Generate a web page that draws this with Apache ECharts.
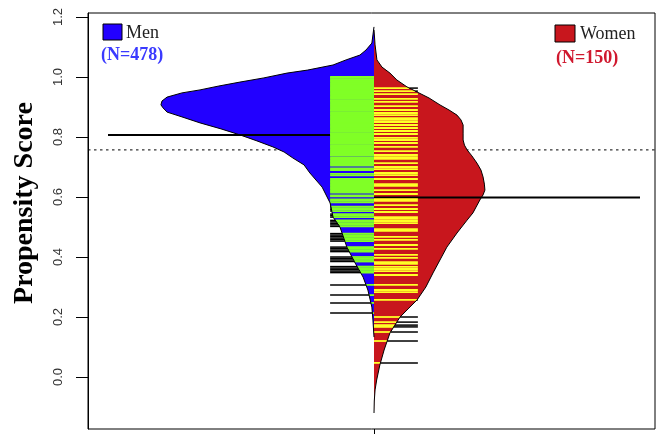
<!DOCTYPE html>
<html>
<head>
<meta charset="utf-8">
<script src="https://cdn.jsdelivr.net/npm/echarts@6/dist/echarts.min.js"></script>
<style>
html, body { margin: 0; padding: 0; background: #fff; }
#chart { width: 656px; height: 434px; }
</style>
</head>
<body>
<div id="chart"></div>
<script>
// Bean shapes: [propensity score, half-width of the bean at that score]
const menDensity = [
  [1.167, 0], [1.140, 0.004], [1.113, 0.008], [1.090, 0.030], [1.073, 0.053],
  [1.057, 0.105], [1.040, 0.154], [1.023, 0.250], [1.013, 0.327], [0.997, 0.414],
  [0.983, 0.504], [0.970, 0.583], [0.957, 0.654], [0.947, 0.722], [0.933, 0.778],
  [0.920, 0.797], [0.907, 0.801], [0.897, 0.793], [0.883, 0.778], [0.867, 0.722],
  [0.847, 0.654], [0.827, 0.575], [0.807, 0.504], [0.787, 0.440], [0.767, 0.380],
  [0.750, 0.338], [0.730, 0.305], [0.707, 0.263], [0.680, 0.241], [0.633, 0.195],
  [0.580, 0.165], [0.533, 0.154], [0.500, 0.128], [0.433, 0.102], [0.380, 0.071],
  [0.333, 0.041], [0.290, 0.023], [0.233, 0.008], [0.190, 0.004], [0.133, 0]
];
const womenDensity = [
  [1.157, 0], [1.107, 0.004], [1.057, 0.011], [1.033, 0.030], [1.013, 0.060],
  [0.990, 0.086], [0.967, 0.124], [0.950, 0.162], [0.930, 0.207], [0.907, 0.248],
  [0.890, 0.282], [0.873, 0.312], [0.857, 0.327], [0.840, 0.335], [0.813, 0.335],
  [0.790, 0.335], [0.773, 0.340], [0.757, 0.350], [0.737, 0.368], [0.713, 0.387],
  [0.690, 0.402], [0.667, 0.410], [0.643, 0.415], [0.623, 0.417], [0.607, 0.410],
  [0.590, 0.398], [0.547, 0.372], [0.523, 0.350], [0.480, 0.312], [0.433, 0.274],
  [0.390, 0.248], [0.347, 0.222], [0.300, 0.195], [0.257, 0.162], [0.227, 0.128],
  [0.200, 0.098], [0.147, 0.060], [0.090, 0.038], [0.040, 0.022], [-0.010, 0.010],
  [-0.043, 0.004], [-0.080, 0.001], [-0.120, 0]
];

// Individual propensity scores (one bean line each)
const menScores = [
  1.000, 0.997, 0.993, 0.989, 0.986, 0.982, 0.978, 0.975, 0.971, 0.967,
  0.964, 0.960, 0.956, 0.953, 0.949, 0.945, 0.942, 0.938, 0.934, 0.931,
  0.927, 0.923, 0.920, 0.916, 0.912, 0.909, 0.905, 0.901, 0.898, 0.894,
  0.890, 0.887, 0.883, 0.879, 0.876, 0.872, 0.868, 0.865, 0.861, 0.857,
  0.854, 0.850, 0.846, 0.843, 0.839, 0.835, 0.832, 0.828, 0.824, 0.821,
  0.817, 0.813, 0.810, 0.806, 0.802, 0.799, 0.795, 0.791, 0.788, 0.784,
  0.780, 0.777, 0.773, 0.769, 0.766, 0.762, 0.758, 0.755, 0.751, 0.747,
  0.744, 0.740, 0.737,
  0.730, 0.725, 0.720, 0.715, 0.710, 0.705, 0.695, 0.690, 0.677, 0.672,
  0.660, 0.655, 0.650, 0.645, 0.640, 0.635, 0.630, 0.625, 0.620, 0.615,
  0.605, 0.602, 0.592, 0.587, 0.582, 0.568, 0.563, 0.558, 0.553, 0.543,
  0.538, 0.533, 0.522, 0.517, 0.512, 0.507, 0.502, 0.478, 0.473, 0.468,
  0.463, 0.458, 0.453, 0.433, 0.428, 0.423, 0.418, 0.400, 0.395, 0.390,
  0.385, 0.368, 0.363, 0.358, 0.353, 0.348, 0.307, 0.273, 0.247, 0.213
];
const womenScores = [
  0.963, 0.953, 0.943, 0.927, 0.917, 0.903, 0.890, 0.880, 0.873, 0.863,
  0.857, 0.850, 0.840, 0.830, 0.820, 0.810, 0.797, 0.790, 0.780, 0.767,
  0.753, 0.740, 0.733, 0.727, 0.713, 0.700, 0.693, 0.680, 0.673, 0.660,
  0.643, 0.637, 0.623, 0.610, 0.593, 0.587, 0.573, 0.560, 0.550, 0.533,
  0.527, 0.520, 0.513, 0.493, 0.487, 0.467, 0.457, 0.440, 0.427, 0.407,
  0.397, 0.383, 0.377, 0.367, 0.360, 0.353, 0.340, 0.307, 0.290, 0.283,
  0.257, 0.200, 0.183, 0.173, 0.167, 0.150, 0.120, 0.047
];

const menMean = 0.807;
const womenMean = 0.598;
const overallMean = 0.757;

const yTicks = [0.0, 0.2, 0.4, 0.6, 0.8, 1.0, 1.2];
const yTitle = 'Propensity Score';
const groupNames = ['Men', 'Women'];
const groupN = [478, 150];

// Layout constants in bean-width units
const BEANLINE_LEN = 0.165;
const AVGLINE_LEN = 1.0;
const X_MIN = -1.0752, X_MAX = 1.0564;
const Y_MIN = -0.1733, Y_MAX = 1.2133;

const COLORS = {
  men: '#2200ff', menLine: '#80ff26',
  women: '#c8161d', womenLine: '#ffff26',
  menText: '#3a3aff', womenText: '#d0182e'
};

// Half-width of a bean at score v (linear between the shape's points)
function widthAt(density, v) {
  for (let i = 0; i < density.length - 1; i++) {
    const a = density[i], b = density[i + 1];
    if (v <= a[0] && v >= b[0]) {
      const t = (a[0] - v) / (a[0] - b[0]);
      return a[1] + t * (b[1] - a[1]);
    }
  }
  return 0;
}

function beanFill(density, side, color) {
  return {
    type: 'custom', coordinateSystem: 'cartesian2d', z: 2, silent: true,
    data: [[0, density[0][0]]],
    renderItem(params, api) {
      const pts = density.map(d => api.coord([side * d[1], d[0]]));
      return { type: 'polygon', shape: { points: pts }, style: { fill: color } };
    }
  };
}

function beanOutline(density, side) {
  return {
    type: 'custom', coordinateSystem: 'cartesian2d', z: 6, silent: true,
    data: [[0, density[0][0]]],
    renderItem(params, api) {
      const pts = density.map(d => api.coord([side * d[1], d[0]]));
      return { type: 'polyline', shape: { points: pts }, style: { stroke: '#000', lineWidth: 1, fill: null } };
    }
  };
}

function beanLines(scores, density, side, color) {
  return {
    type: 'custom', coordinateSystem: 'cartesian2d', z: 5, silent: true,
    data: scores.map(s => [0, s]),
    renderItem(params, api) {
      const v = api.value(1);
      const w = Math.min(widthAt(density, v), BEANLINE_LEN);
      const c0 = api.coord([0, v]);
      const c1 = api.coord([side * w, v]);
      const c2 = api.coord([side * BEANLINE_LEN, v]);
      return {
        type: 'group',
        children: [
          { type: 'line', shape: { x1: c0[0], y1: c0[1], x2: c1[0], y2: c1[1] }, style: { stroke: color, lineWidth: 1.8 } },
          { type: 'line', shape: { x1: c1[0], y1: c1[1], x2: c2[0], y2: c2[1] }, style: { stroke: '#000', lineWidth: 1.5 } }
        ]
      };
    }
  };
}

function hLine(x0, x1, y, style, z) {
  return {
    type: 'line', z: z, silent: true, symbol: 'none', animation: false,
    data: [[x0, y], [x1, y]], lineStyle: style
  };
}

const chart = echarts.init(document.getElementById('chart'), null, { renderer: 'canvas' });

const serif = '"Liberation Serif", "Times New Roman", serif';

chart.setOption({
  animation: false,
  grid: { left: 88, right: 1, top: 13, bottom: 5, show: true, borderColor: '#000', borderWidth: 1 },
  xAxis: {
    type: 'value', min: X_MIN, max: X_MAX,
    axisLine: { show: false, onZero: false }, splitLine: { show: false },
    axisLabel: { show: false },
    axisTick: { show: true, customValues: [0], length: 6, lineStyle: { color: '#000' } }
  },
  yAxis: {
    type: 'value', min: Y_MIN, max: Y_MAX,
    axisLine: { show: true, onZero: false, lineStyle: { color: '#000', width: 1 } },
    splitLine: { show: false },
    axisTick: { show: true, customValues: yTicks, length: 12, lineStyle: { color: '#000' } },
    axisLabel: {
      customValues: yTicks, rotate: 90, margin: 23,
      formatter: v => v.toFixed(1),
      fontFamily: '"Liberation Sans", Arial, sans-serif', fontSize: 13, color: '#333'
    }
  },
  graphic: [
    { type: 'text', x: 25, y: 203, rotation: Math.PI / 2,
      style: { text: yTitle, font: 'bold 28px ' + serif, fill: '#000', align: 'center', verticalAlign: 'middle' } },
    { type: 'rect', shape: { x: 103, y: 24, width: 19, height: 16 }, style: { fill: COLORS.men, stroke: '#000', lineWidth: 1 } },
    { type: 'text', x: 126, y: 33, style: { text: groupNames[0], font: '18px ' + serif, fill: '#222', verticalAlign: 'middle' } },
    { type: 'text', x: 101, y: 55, style: { text: '(N=' + groupN[0] + ')', font: 'bold 18px ' + serif, fill: COLORS.menText, verticalAlign: 'middle' } },
    { type: 'rect', shape: { x: 555, y: 25, width: 20, height: 17 }, style: { fill: COLORS.women, stroke: '#000', lineWidth: 1 } },
    { type: 'text', x: 580, y: 34, style: { text: groupNames[1], font: '18px ' + serif, fill: '#222', verticalAlign: 'middle' } },
    { type: 'text', x: 556, y: 58, style: { text: '(N=' + groupN[1] + ')', font: 'bold 18px ' + serif, fill: COLORS.womenText, verticalAlign: 'middle' } }
  ],
  series: [
    hLine(X_MIN, X_MAX, overallMean, { color: '#000', width: 1, type: [2.5, 3.5] }, 1),
    beanFill(menDensity, -1, COLORS.men),
    beanFill(womenDensity, 1, COLORS.women),
    hLine(-AVGLINE_LEN, 0, menMean, { color: '#000', width: 2 }, 3),
    hLine(0, AVGLINE_LEN, womenMean, { color: '#000', width: 2 }, 3),
    beanLines(menScores, menDensity, -1, COLORS.menLine),
    beanLines(womenScores, womenDensity, 1, COLORS.womenLine),
    beanOutline(menDensity, -1),
    beanOutline(womenDensity, 1)
  ]
});
</script>
</body>
</html>
